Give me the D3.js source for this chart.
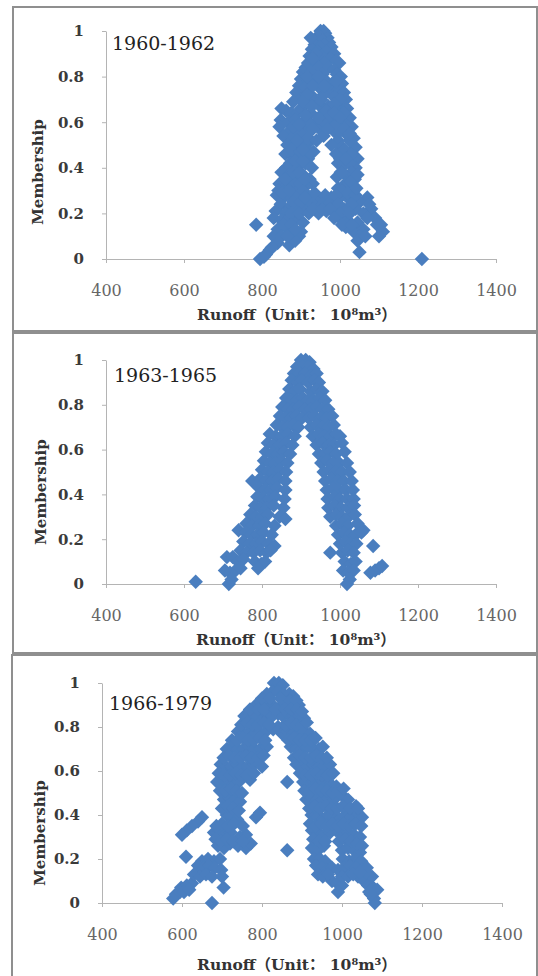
<!DOCTYPE html>
<html>
<head>
<meta charset="utf-8">
<script src="https://cdn.jsdelivr.net/npm/d3@7"></script>
<style>
body { margin: 0; background: #fff; }
</style>
</head>
<body>
<div id="chart"></div>
<script>
var periods = ["1960-1962", "1963-1965", "1966-1979"];
var xTicks = [400, 600, 800, 1000, 1200, 1400];
var yTicks = [0, 0.2, 0.4, 0.6, 0.8, 1];
var xTitle = "Runoff（Unit： 10⁸m³）";
var yTitle = "Membership";

// runoff, membership  (1960-1962)
var pts6062 = [
  [950,1.0],[958,1.0],[962,0.99],[945,0.98],[968,0.97],[940,0.96],[955,0.96],[972,0.95],[935,0.94],[960,0.94],[948,0.93],[978,0.93],
  [928,0.92],[942,0.91],[965,0.91],[985,0.9],[922,0.89],[952,0.89],[975,0.88],[990,0.87],[918,0.86],[935,0.86],[960,0.86],[998,0.86],
  [912,0.84],[945,0.84],[970,0.84],[985,0.83],[905,0.82],[925,0.82],[955,0.81],[992,0.81],[1002,0.8],
  [900,0.79],[918,0.78],[938,0.78],[965,0.78],[980,0.77],[1005,0.77],[895,0.76],[910,0.75],[948,0.75],[975,0.74],[995,0.74],[1010,0.73],
  [888,0.73],[925,0.72],[958,0.72],[985,0.71],[1015,0.7],[898,0.7],[935,0.7],
  [880,0.69],[912,0.68],[945,0.68],[970,0.67],[1000,0.67],[1018,0.66],[850,0.66],[862,0.65],[875,0.64],[892,0.64],[925,0.64],[960,0.63],
  [990,0.63],[1025,0.62],[848,0.61],[868,0.6],[885,0.61],[905,0.6],[938,0.6],[975,0.6],[1008,0.6],[1030,0.58],
  [845,0.58],[870,0.56],[890,0.57],[915,0.56],[948,0.57],[985,0.56],[1015,0.55],[855,0.54],[878,0.53],[902,0.52],[925,0.52],[958,0.54],
  [995,0.52],[1035,0.53],[865,0.5],[888,0.49],[912,0.5],[932,0.47],[978,0.5],[1005,0.49],[1040,0.49],
  [860,0.46],[880,0.45],[900,0.46],[918,0.44],[990,0.46],[1018,0.45],[1045,0.44],[872,0.42],[895,0.41],[912,0.42],[928,0.4],[995,0.42],
  [1010,0.41],[1040,0.4],[862,0.4],
  [850,0.38],[870,0.37],[888,0.36],[905,0.37],[922,0.35],[930,0.33],[992,0.36],[1002,0.38],[1020,0.36],[1038,0.35],[845,0.33],[862,0.32],
  [882,0.31],[912,0.32],[995,0.31],[1008,0.32],[1030,0.31],[842,0.3],
  [838,0.28],[855,0.27],[875,0.27],[895,0.28],[920,0.27],[945,0.27],[962,0.28],[978,0.27],[1000,0.27],[1025,0.26],[1070,0.27],[1050,0.25],
  [848,0.24],[868,0.22],[890,0.23],[910,0.22],[935,0.23],[955,0.24],[985,0.22],[1010,0.22],[1040,0.22],[1080,0.22],[1060,0.2],[835,0.21],
  [860,0.2],[945,0.2],[965,0.21],
  [830,0.18],[850,0.17],[870,0.18],[888,0.18],[905,0.16],[1000,0.18],[1020,0.17],[1045,0.16],[1090,0.18],[1095,0.15],[785,0.15],[840,0.13],
  [862,0.14],[880,0.12],[900,0.12],[1015,0.14],[1035,0.12],[1060,0.13],[1110,0.12],[1100,0.1],[830,0.1],[895,0.1],[1050,0.1],[1018,0.15],
  [870,0.06],[840,0.07],[825,0.05],[820,0.04],[810,0.02],[795,0.0],[805,0.01],[1050,0.03],[1210,0.0],[885,0.08],[1045,0.08],
  [925,0.97],[938,0.9],[930,0.88],[915,0.8],[930,0.76],[945,0.8],[960,0.76],[990,0.78],[1000,0.7],[955,0.66],[985,0.68],[900,0.66],
  [920,0.6],[960,0.6],[990,0.59],[1020,0.58],[1010,0.64],[880,0.58],[900,0.55],[930,0.57],[968,0.57],[1000,0.56],[1025,0.52],[875,0.48],
  [898,0.47],[1012,0.48],[1030,0.46],[1000,0.44],[885,0.43],[905,0.43],[1025,0.42],[1030,0.38],[1015,0.33],[878,0.34],[898,0.33],[860,0.35],
  [852,0.29],[870,0.3],[905,0.3],[1005,0.3],[1020,0.29],[935,0.29],[990,0.28],[1040,0.28],[880,0.25],[900,0.25],[925,0.25],[970,0.24],
  [995,0.24],[1030,0.24],[875,0.2],[895,0.2],[920,0.2],[1000,0.2],[1025,0.2],[1075,0.24],[855,0.15],[875,0.15],[1005,0.15],[1030,0.15],
  [1070,0.18],[1105,0.15],[850,0.1],[865,0.1],[1065,0.1],[885,0.13],
  [915,0.72],[905,0.69],[928,0.67],[912,0.63],[895,0.59],[918,0.53],[940,0.52],[922,0.47],[945,0.62],[965,0.65],[952,0.7],[975,0.63],
  [985,0.64],[1000,0.62],[1012,0.57],[1025,0.55],[890,0.52],[905,0.48],[880,0.38],[895,0.38],[910,0.35],[910,0.27],[930,0.22],[955,0.22],
  [975,0.22],[985,0.18],[1005,0.38],[1015,0.44],[1028,0.34],[1042,0.31],[1045,0.37]
];

// runoff, membership  (1963-1965)
var pts6365 = [
  [900,1.0],[912,1.0],[922,0.99],[890,0.97],[905,0.97],[918,0.97],[932,0.96],[882,0.94],[896,0.94],[910,0.94],[925,0.93],[940,0.94],
  [876,0.91],[890,0.9],[902,0.91],[918,0.9],[934,0.91],[946,0.9],[870,0.87],[884,0.86],[897,0.87],[925,0.86],[940,0.87],[955,0.86],
  [862,0.83],[876,0.82],[890,0.82],[905,0.83],[918,0.82],[932,0.82],[948,0.83],[962,0.82],
  [852,0.79],[866,0.78],[880,0.78],[895,0.79],[910,0.78],[925,0.78],[940,0.79],[955,0.78],[970,0.78],
  [846,0.75],[860,0.74],[874,0.74],[888,0.75],[902,0.74],[920,0.74],[934,0.75],[950,0.74],[965,0.74],[980,0.75],
  [838,0.71],[852,0.7],[866,0.7],[880,0.71],[893,0.7],[925,0.7],[940,0.71],[955,0.7],[970,0.7],[984,0.71],
  [820,0.67],[835,0.66],[850,0.66],[866,0.67],[884,0.66],[930,0.66],[945,0.67],[960,0.66],[975,0.66],[990,0.67],[1000,0.66],
  [815,0.63],[830,0.62],[846,0.62],[862,0.63],[878,0.62],[940,0.62],[955,0.63],[970,0.62],[985,0.62],[1005,0.63],
  [810,0.59],[825,0.58],[840,0.58],[856,0.59],[872,0.58],[946,0.58],[960,0.58],[975,0.59],[990,0.58],[1012,0.59],
  [805,0.55],[820,0.54],[835,0.54],[850,0.55],[865,0.54],[952,0.54],[967,0.55],[982,0.54],[998,0.54],[1018,0.54],
  [800,0.51],[815,0.5],[830,0.5],[846,0.51],[862,0.5],[958,0.5],[973,0.51],[988,0.5],[1005,0.5],[1025,0.5],
  [775,0.46],[795,0.47],[810,0.46],[826,0.46],[842,0.47],[860,0.46],[962,0.46],[978,0.47],[994,0.46],[1010,0.46],[1030,0.46],
  [792,0.43],[806,0.42],[822,0.42],[838,0.43],[860,0.42],[966,0.42],[982,0.43],[998,0.42],[1015,0.42],[1033,0.42],
  [788,0.39],[802,0.38],[818,0.38],[834,0.39],[858,0.38],[968,0.38],[985,0.39],[1000,0.38],[1018,0.38],[1035,0.38],
  [782,0.35],[796,0.34],[812,0.34],[830,0.35],[855,0.34],[970,0.34],[986,0.35],[1002,0.34],[1020,0.34],[1036,0.35],
  [770,0.31],[784,0.3],[800,0.3],[815,0.31],[845,0.3],[860,0.29],[975,0.3],[990,0.31],[1005,0.3],[1022,0.3],[1038,0.31],
  [760,0.27],[775,0.26],[792,0.26],[808,0.27],[832,0.26],[990,0.26],[1005,0.27],[1020,0.26],[1045,0.27],[1060,0.24],
  [740,0.24],[758,0.23],[772,0.22],[788,0.22],[804,0.23],[825,0.22],[995,0.22],[1010,0.23],[1025,0.22],[1040,0.22],[1055,0.23],
  [752,0.19],[768,0.18],[784,0.18],[800,0.19],[816,0.18],[832,0.17],[1000,0.18],[1014,0.19],[1028,0.18],[1042,0.18],[1085,0.17],
  [745,0.15],[760,0.14],[778,0.14],[795,0.15],[812,0.14],[822,0.15],[975,0.14],[1005,0.14],[1020,0.15],[1035,0.14],
  [710,0.12],[725,0.12],[738,0.1],[752,0.11],[782,0.1],[798,0.09],[808,0.1],[1012,0.1],[1028,0.09],[1040,0.1],
  [705,0.06],[718,0.05],[732,0.06],[745,0.07],[790,0.07],[1008,0.06],[1022,0.05],[1035,0.06],[1078,0.05],[1090,0.06],[1100,0.07],[1108,0.08],
  [630,0.01],[715,0.0],[722,0.02],[1018,0.0],[1025,0.02]
];

// runoff, membership  (1966-1979)
var pts6679 = [
  [830,1.0],[842,1.0],[852,0.99],[812,0.95],[826,0.96],[840,0.96],[854,0.95],[868,0.95],[878,0.94],
  [785,0.9],[798,0.91],[812,0.9],[826,0.9],[850,0.9],[864,0.91],[878,0.9],[892,0.9],
  [756,0.85],[770,0.86],[784,0.85],[798,0.85],[812,0.86],[826,0.85],[840,0.86],[852,0.85],[866,0.86],[880,0.85],[895,0.85],[905,0.84],
  [740,0.78],[754,0.77],[768,0.78],[782,0.77],[796,0.77],[810,0.78],[828,0.79],[840,0.8],[850,0.77],[864,0.78],[878,0.77],[892,0.77],[906,0.78],[920,0.77],
  [712,0.7],[726,0.71],[740,0.7],[754,0.7],[768,0.71],[782,0.7],[796,0.7],[812,0.71],[872,0.71],[886,0.7],[900,0.7],[914,0.71],[928,0.7],[942,0.7],[952,0.71],
  [697,0.63],[710,0.62],[724,0.62],[738,0.63],[752,0.62],[766,0.62],[780,0.63],[800,0.62],[886,0.63],[900,0.62],[914,0.62],[928,0.63],[942,0.62],[956,0.62],[970,0.63],
  [688,0.55],[700,0.54],[714,0.55],[728,0.54],[742,0.55],[770,0.56],[863,0.55],[903,0.55],[916,0.54],[930,0.55],[944,0.54],[958,0.55],[972,0.54],[986,0.53],
  [705,0.47],[718,0.48],[732,0.47],[745,0.46],[911,0.47],[924,0.48],[938,0.47],[952,0.47],[966,0.48],[980,0.47],[1000,0.49],[1015,0.47],[1035,0.44],
  [650,0.39],[640,0.37],[625,0.35],[612,0.33],[600,0.31],[712,0.4],[725,0.39],[738,0.38],[795,0.41],[785,0.39],
  [924,0.4],[938,0.39],[952,0.38],[966,0.4],[980,0.39],[994,0.38],[1008,0.4],[1022,0.39],[1038,0.41],[1050,0.39],
  [680,0.32],[694,0.33],[708,0.31],[722,0.32],[745,0.3],[760,0.31],
  [925,0.33],[940,0.32],[955,0.31],[970,0.32],[985,0.33],[1000,0.31],[1015,0.32],[1030,0.31],[1045,0.3],
  [690,0.26],[705,0.25],[720,0.27],[740,0.26],[760,0.25],[772,0.27],[863,0.24],
  [925,0.25],[940,0.24],[955,0.26],[1000,0.24],[1015,0.25],[1030,0.24],[1045,0.23],
  [610,0.21],[650,0.19],[665,0.2],[680,0.19],[695,0.2],[930,0.2],[945,0.2],[958,0.19],[1002,0.2],[1018,0.19],[1032,0.2],[1048,0.19],
  [640,0.17],[655,0.16],[668,0.17],[682,0.16],[698,0.15],
  [935,0.17],[950,0.16],[962,0.15],[975,0.16],[990,0.15],[1005,0.16],[1020,0.17],[1035,0.16],[1050,0.15],[1062,0.16],
  [598,0.07],[612,0.08],[625,0.09],[700,0.12],[704,0.07],
  [975,0.1],[988,0.09],[1000,0.08],[1040,0.12],[1055,0.1],[1065,0.08],[1078,0.07],[1088,0.06],[1075,0.12],[1060,0.14],
  [578,0.02],[585,0.04],[595,0.05],[675,0.0],[1080,0.02],[1082,0.0],[1072,0.04],
  [800,0.93],[820,0.93],[846,0.93],[870,0.92],[886,0.92],
  [770,0.88],[790,0.88],[806,0.88],[834,0.88],[858,0.88],[872,0.88],[888,0.88],[900,0.87],
  [748,0.81],[762,0.82],[776,0.81],[790,0.81],[805,0.82],[818,0.81],[858,0.81],[872,0.82],[886,0.81],[900,0.81],[912,0.82],
  [725,0.74],[738,0.74],[752,0.75],[766,0.74],[780,0.74],[795,0.75],[808,0.74],[866,0.74],[880,0.75],[894,0.74],[908,0.74],[922,0.74],[934,0.75],
  [704,0.66],[718,0.67],[732,0.66],[746,0.66],[760,0.67],[774,0.66],[790,0.66],[804,0.67],[880,0.66],[894,0.67],[908,0.66],[922,0.66],[936,0.67],[950,0.66],[962,0.66],
  [692,0.59],[706,0.58],[720,0.58],[734,0.59],[748,0.58],[762,0.58],[780,0.59],[895,0.59],[908,0.58],[922,0.58],[936,0.59],[950,0.58],[964,0.58],[978,0.59],
  [695,0.51],[708,0.51],[722,0.52],[736,0.51],[750,0.5],[906,0.51],[920,0.51],[934,0.52],[948,0.51],[962,0.51],[976,0.5],[990,0.51],[1004,0.52],
  [700,0.43],[714,0.44],[728,0.43],[742,0.42],[918,0.43],[932,0.44],[946,0.43],[960,0.44],[974,0.43],[988,0.43],[1002,0.44],[1020,0.43],[1040,0.43],
  [686,0.35],[700,0.36],[715,0.35],[730,0.36],[752,0.35],[920,0.36],[934,0.35],[948,0.36],[962,0.35],[976,0.36],[990,0.35],[1004,0.36],[1018,0.35],[1034,0.36],[1048,0.35],
  [684,0.29],[698,0.28],[712,0.29],[728,0.28],[752,0.28],[928,0.29],[942,0.28],[958,0.28],[992,0.28],[1008,0.29],[1022,0.28],[1038,0.27],[1050,0.26],
  [630,0.13],[645,0.12],[660,0.13],[675,0.12],[940,0.13],[952,0.12],[965,0.13],[1000,0.12],[1015,0.12],[1028,0.13],[1045,0.14],
  [605,0.05],[618,0.06],[990,0.05],[1068,0.05]
];

var series = [pts6062, pts6365, pts6679];

// page layout of the three stacked panels
var layout = [
  { box: [13, 7, 524, 324],  xr: [106, 496], yr: [259, 31],  label: [112, 50],  xt: [297, 320], yt: [43, 172] },
  { box: [13, 333, 524, 320], xr: [106, 496], yr: [584, 360], label: [114, 382], xt: [296, 645], yt: [46, 492] },
  { box: [12, 655, 525, 325], xr: [102, 502], yr: [903, 683], label: [109, 710], xt: [297, 970], yt: [45, 833] }
];

var blue = "#4a7ebf";
var svg = d3.select("#chart").append("svg")
    .attr("width", 538)
    .attr("height", 976);

var diamond = d3.symbol().type(d3.symbolSquare).size(104);

layout.forEach(function(L, i) {
    var g = svg.append("g");

    g.append("rect")
        .attr("x", L.box[0]).attr("y", L.box[1])
        .attr("width", L.box[2]).attr("height", L.box[3])
        .attr("fill", "#fff")
        .attr("stroke", "#8f8f8f")
        .attr("stroke-width", 2);

    var x = d3.scaleLinear().domain([400, 1400]).range(L.xr);
    var y = d3.scaleLinear().domain([0, 1]).range(L.yr);

    var xAxis = g.append("g")
        .attr("transform", "translate(0," + y(0) + ")")
        .call(d3.axisBottom(x).tickValues(xTicks).tickFormat(d3.format("d"))
            .tickSize(4).tickSizeOuter(0).tickPadding(22));
    xAxis.selectAll("text")
        .style("font-family", "DejaVu Serif")
        .style("font-size", "16px")
        .attr("fill", "#666");

    var yAxis = g.append("g")
        .attr("transform", "translate(" + x(400) + ",0)")
        .call(d3.axisLeft(y).tickValues(yTicks).tickFormat(d3.format(""))
            .tickSize(4).tickSizeOuter(0).tickPadding(18));
    yAxis.selectAll("text")
        .style("font-family", "DejaVu Serif")
        .style("font-size", "15px")
        .style("font-weight", "bold")
        .attr("fill", "#3a3a3a");

    g.selectAll(".domain, .tick line").attr("stroke", "#b4b4b4");

    g.selectAll("path.pt")
        .data(series[i])
        .enter().append("path")
        .attr("class", "pt")
        .attr("d", diamond)
        .attr("transform", function(d) {
            return "translate(" + x(d[0]) + "," + y(d[1]) + ")rotate(45)";
        })
        .attr("fill", blue);

    g.append("text")
        .attr("x", L.label[0]).attr("y", L.label[1])
        .style("font-family", "DejaVu Serif")
        .style("font-size", "19px")
        .attr("fill", "#222")
        .text(periods[i]);

    g.append("text")
        .attr("x", L.xt[0]).attr("y", L.xt[1])
        .attr("text-anchor", "middle")
        .style("font-family", "DejaVu Serif, Noto Sans CJK SC")
        .style("font-size", "15.5px")
        .style("font-weight", "bold")
        .attr("fill", "#333")
        .text(xTitle);

    g.append("text")
        .attr("transform", "translate(" + L.yt[0] + "," + L.yt[1] + ")rotate(-90)")
        .attr("text-anchor", "middle")
        .style("font-family", "DejaVu Serif")
        .style("font-size", "15px")
        .style("font-weight", "bold")
        .attr("fill", "#333")
        .text(yTitle);
});
</script>
</body>
</html>
